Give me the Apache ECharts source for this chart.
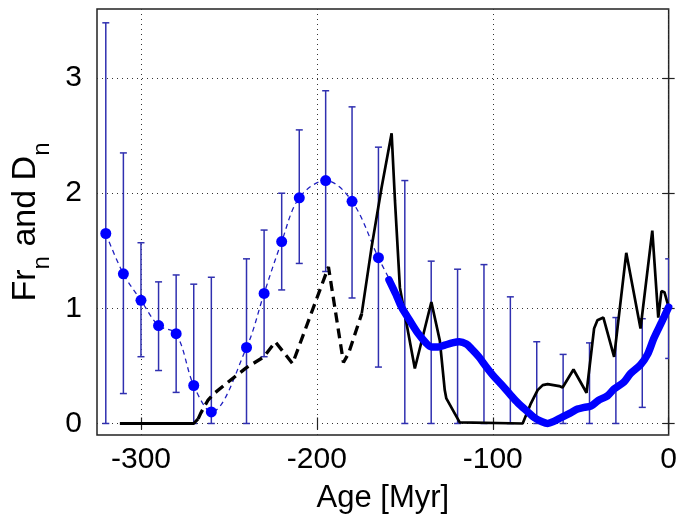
<!DOCTYPE html>
<html>
<head>
<meta charset="utf-8">
<script src="https://cdn.jsdelivr.net/npm/echarts@6/dist/echarts.min.js"></script>
<style>html,body{margin:0;padding:0;background:#fff}#c{width:680px;height:520px}</style>
</head>
<body>
<div id="c"></div>
<script>
// ---- Data ----
const xTicks = [-300, -200, -100, 0];
const yTicks = [0, 1, 2, 3];

// Fr_n estimates with error bars (blue markers)
const frAge  = [-320, -310, -300, -290, -280, -270, -260, -240, -230, -220, -210, -195, -180, -165];
const frVal  = [1.65, 1.30, 1.07, 0.85, 0.78, 0.33, 0.10, 0.66, 1.13, 1.58, 1.96, 2.11, 1.93, 1.44];
const frLow  = [0.00, 0.26, 0.58, 0.46, 0.27, 0.00, 0.00, 0.00, 0.58, 1.16, 1.39, 1.32, 1.09, 0.49];
const frHigh = [3.48, 2.35, 1.57, 1.23, 1.29, 1.21, 1.27, 1.43, 1.68, 2.00, 2.55, 2.89, 2.75, 2.40];

// thin dashed blue trend through the Fr_n points
const trendAge = [-320, -310, -300, -290, -280, -270, -260, -240, -230, -220, -210, -195, -180, -165, -159];
const trendVal = [1.65, 1.30, 1.07, 0.85, 0.78, 0.33, 0.10, 0.66, 1.13, 1.58, 1.96, 2.11, 1.93, 1.44, 1.26];

// error bars without markers (younger part)
const barAge  = [-150, -135, -120, -105, -90, -75, -60, -45, -30, -15, 0];
const barLow  = [0, 0, 0, 0, 0, 0, 0, 0, 0, 0.14, 0.565];
const barHigh = [2.11, 1.41, 1.34, 1.38, 1.10, 0.71, 0.60, 0.70, 0.92, 0.91, 1.43];

// black curve: solid (old), dashed (middle), solid (young)
const blackOldAge = [-312, -270, -267.5];
const blackOldVal = [0, 0, 0.04];
const blackDashAge = [-267.5, -266, -262, -258.5, -249, -240.2, -230.2, -223.6, -213.8, -193.4, -184.9, -182, -174.5];
const blackDashVal = [0.04, 0.09, 0.20, 0.26, 0.377, 0.483, 0.578, 0.708, 0.52, 1.36, 0.53, 0.608, 0.954];
const blackYoungAge = [-174.5, -168.9, -163.2, -157.5, -155.6, -152.8, -144.3, -134.9, -130.1, -127.3, -126.4, -118.8, -83, -78.3, -74.5, -71.6, -68.8, -62.2, -60.3, -54.1, -46.7, -42.4, -40.5, -37.1, -31.0, -24.1, -16.0, -9.3, -5.9, -4.1, -2.4, 0];
const blackYoungVal = [0.954, 1.53, 2.05, 2.52, 1.935, 1.18, 0.478, 1.055, 0.72, 0.29, 0.218, 0.01, 0, 0.175, 0.29, 0.333, 0.342, 0.325, 0.313, 0.469, 0.267, 0.824, 0.896, 0.92, 0.578, 1.482, 0.824, 1.675, 0.92, 1.15, 1.14, 1.01];

// thick blue D_n curve
const dAge = [-159, -155, -151.9, -147, -142.4, -138, -134.9, -131, -127.3, -123, -119, -115, -112.2, -108, -104.6, -100, -95.2, -90, -85.8, -80, -76.3, -72, -68.8, -65, -61.3, -56, -51.8, -48, -44.3, -40, -34.8, -31, -25.4, -21.6, -16, -12, -8.4, -4, 0];
const dVal = [1.248, 1.12, 1.011, 0.89, 0.781, 0.70, 0.665, 0.665, 0.68, 0.70, 0.71, 0.69, 0.65, 0.58, 0.51, 0.42, 0.34, 0.25, 0.18, 0.10, 0.05, 0.015, 0.0, 0.02, 0.05, 0.09, 0.125, 0.14, 0.15, 0.20, 0.24, 0.30, 0.36, 0.435, 0.51, 0.60, 0.74, 0.88, 1.01];

// ---- Build ----
const zip = (a, b) => a.map((v, i) => [v, b[i]]);
const FONT = 'Liberation Sans, Arial, sans-serif';
const ERR_COLOR = '#3030b0';

function errRender(params, api) {
  const x = api.value(0), lo = api.value(1), hi = api.value(2);
  const pLo = api.coord([x, lo]);
  const pHi = api.coord([x, hi]);
  const w = 3.5;
  const st = { stroke: ERR_COLOR, lineWidth: 1.5 };
  return {
    type: 'group',
    children: [
      { type: 'line', shape: { x1: pLo[0], y1: pLo[1], x2: pHi[0], y2: pHi[1] }, style: st },
      { type: 'line', shape: { x1: pLo[0] - w, y1: pLo[1], x2: pLo[0] + w, y2: pLo[1] }, style: st },
      { type: 'line', shape: { x1: pHi[0] - w, y1: pHi[1], x2: pHi[0] + w, y2: pHi[1] }, style: st }
    ]
  };
}

const errData = frAge.map((a, i) => [a, frLow[i], frHigh[i]])
  .concat(barAge.map((a, i) => [a, barLow[i], barHigh[i]]));

const chart = echarts.init(document.getElementById('c'), null, { renderer: 'canvas' });
chart.setOption({
  animation: false,
  backgroundColor: '#fff',
  textStyle: { fontFamily: FONT },
  grid: { left: 97, right: 8, top: 9, bottom: 85, show: true, borderColor: '#222', borderWidth: 1.5, backgroundColor: '#fff' },
  xAxis: [
    {
      type: 'value', min: -325, max: 0, position: 'bottom',
      axisLine: { show: false },
      axisTick: { show: true, inside: true, length: 6, customValues: xTicks, lineStyle: { color: '#222', width: 1.2 } },
      axisLabel: { customValues: xTicks, fontSize: 30, color: '#000', margin: 10, fontFamily: FONT },
      splitLine: { show: true, lineStyle: { type: [1, 4], color: '#333', width: 1 } },
      name: 'Age [Myr]', nameLocation: 'middle', nameGap: 48,
      nameTextStyle: { fontSize: 31, color: '#000', fontFamily: FONT }
    },
    {
      type: 'value', min: -325, max: 0, position: 'top',
      axisLine: { show: false },
      axisTick: { show: true, inside: true, length: 6, customValues: xTicks, lineStyle: { color: '#222', width: 1.2 } },
      axisLabel: { show: false }, splitLine: { show: false }
    }
  ],
  yAxis: [
    {
      type: 'value', min: -0.1, max: 3.6, position: 'left',
      axisLine: { show: false },
      axisTick: { show: true, inside: true, length: 6, customValues: yTicks, lineStyle: { color: '#222', width: 1.2 } },
      axisLabel: { customValues: yTicks, fontSize: 30, color: '#000', margin: 15, fontFamily: FONT },
      splitLine: { show: true, lineStyle: { type: [1, 4], color: '#333', width: 1 } },
      name: '{m|Fr}{s|n}{m| and D}{s|n}', nameLocation: 'middle', nameGap: 35, nameRotate: 90,
      nameTextStyle: {
        color: '#000', fontFamily: FONT,
        rich: {
          m: { fontSize: 34, lineHeight: 34, verticalAlign: 'top', color: '#000', fontFamily: FONT },
          s: { fontSize: 24, lineHeight: 24, verticalAlign: 'top', padding: [22, 0, 0, 0], color: '#000', fontFamily: FONT }
        }
      }
    },
    {
      type: 'value', min: -0.1, max: 3.6, position: 'right',
      axisLine: { show: false },
      axisTick: { show: true, inside: true, length: 6, customValues: yTicks, lineStyle: { color: '#222', width: 1.2 } },
      axisLabel: { show: false }, splitLine: { show: false }
    }
  ],
  series: [
    {
      type: 'custom', name: 'err', renderItem: errRender, data: errData,
      encode: { x: 0, y: [1, 2] }, clip: true, z: 2, silent: true
    },
    {
      type: 'line', name: 'trend', data: zip(trendAge, trendVal), smooth: 0.35,
      showSymbol: false, symbol: 'none', z: 3,
      lineStyle: { color: '#2020c0', width: 1.3, type: [5, 4] }
    },
    {
      type: 'scatter', name: 'Fr', data: zip(frAge, frVal), symbol: 'circle', symbolSize: 11, z: 4,
      itemStyle: { color: '#0000ff', opacity: 1 }
    },
    {
      type: 'line', name: 'blackOld', data: zip(blackOldAge, blackOldVal), symbol: 'none', z: 5,
      lineStyle: { color: '#000', width: 3 }
    },
    {
      type: 'line', name: 'blackDash', data: zip(blackDashAge, blackDashVal), symbol: 'none', z: 5,
      lineStyle: { color: '#000', width: 3.3, type: [10, 6] }
    },
    {
      type: 'line', name: 'blackYoung', data: zip(blackYoungAge, blackYoungVal), symbol: 'none', z: 5,
      lineStyle: { color: '#000', width: 2.7 }
    },
    {
      type: 'line', name: 'Dn', data: zip(dAge, dVal), symbol: 'none', smooth: 0.3, z: 6,
      lineStyle: { color: '#0000ff', width: 7.5, cap: 'round' }
    }
  ]
});
</script>
</body>
</html>
